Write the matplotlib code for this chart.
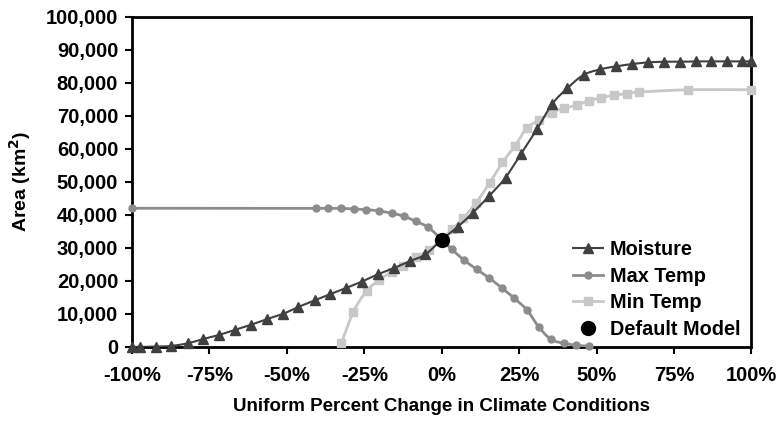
import numpy as np
import matplotlib.pyplot as plt
from matplotlib.lines import Line2D
from matplotlib.ticker import FuncFormatter

plt.rcParams['font.family'] = ['Liberation Sans', 'DejaVu Sans']
plt.rcParams['font.weight'] = 'bold'

# values
moist_x = [-100, -97.3, -92.3, -87.3, -82, -77, -72, -66.7, -61.6, -56.5, -51.3,
           -46.3, -41, -36, -31, -25.8, -20.6, -15.4, -10.3, -5.3, 0,
           5.1, 10.1, 15.4, 20.6, 25.6, 30.8, 35.6, 40.6, 45.8, 51.2,
           56.3, 61.5, 66.6, 71.8, 76.8, 82, 87.1, 92, 97.1, 100]
moist_y = [0, 0, 100, 300, 1100, 2400, 3600, 5200, 6700, 8400, 10000,
           12100, 14100, 16000, 17800, 19800, 22000, 23900, 26000, 28000, 32500,
           36300, 40700, 45800, 51300, 58500, 66000, 73500, 78400, 82400, 84100,
           85000, 85700, 86200, 86400, 86400, 86500, 86500, 86500, 86500, 86500]

maxt_x = [-100, -40.6, -36.6, -32.4, -28.4, -24.3, -20.3, -16.2, -12.2, -8.3, -4.3, 0,
          3.2, 7.2, 11.3, 15.3, 19.5, 23.4, 27.6, 31.3, 35.3, 39.4, 43.4, 47.5]
maxt_y = [42000, 42000, 42000, 42000, 41800, 41600, 41200, 40500, 39600, 38000, 36200, 32500,
          29600, 26300, 23500, 20900, 17800, 14800, 11100, 6100, 2300, 1100, 500, 200]

mint_x = [-32.4, -28.5, -24.2, -20.2, -16.2, -12.5, -8.2, -4.2, 0,
          3.4, 7, 11.1, 15.5, 19.6, 23.6, 27.4, 31.4, 35.5, 39.5, 43.6, 47.5,
          51.6, 55.6, 59.8, 63.7, 79.6, 100]
mint_y = [1100, 10700, 17000, 20300, 22800, 24600, 27300, 29300, 32500,
          35600, 39000, 43700, 49700, 55900, 60800, 66200, 68700, 71000, 72300, 73200, 74600,
          75500, 76300, 76700, 77200, 77900, 77900]

default_x = [0]
default_y = [32500]

x_ticks = [-100, -75, -50, -25, 0, 25, 50, 75, 100]
y_ticks = list(range(0, 100001, 10000))


def smooth(xs, ys, n=12):
    # excel-style smoothed line through the points (bezier, 1/6 tangents)
    p = np.column_stack([xs, ys]).astype(float)
    out = [p[0]]
    for i in range(len(p) - 1):
        p0 = p[i - 1] if i > 0 else p[i]
        p3 = p[i + 2] if i + 2 < len(p) else p[i + 1]
        c1 = p[i] + (p[i + 1] - p0) / 6
        c2 = p[i + 1] - (p3 - p[i]) / 6
        t = np.linspace(0, 1, n)[1:, None]
        seg = ((1 - t) ** 3 * p[i] + 3 * (1 - t) ** 2 * t * c1
               + 3 * (1 - t) * t ** 2 * c2 + t ** 3 * p[i + 1])
        out.extend(seg)
    out = np.array(out)
    return out[:, 0], out[:, 1]


fig = plt.figure(figsize=(7.77, 4.21), dpi=100)
ax = fig.add_axes([0.170, 0.176, 0.797, 0.784])

c_moist = '#404040'
c_max = '#8c8c8c'
c_min = '#c8c8c8'

sx, sy = smooth(mint_x, mint_y)
ax.plot(sx, sy, color=c_min, lw=2, zorder=2)
ax.plot(mint_x[:-1], mint_y[:-1], ls='none', marker='s', ms=6, color=c_min, zorder=3)
ax.plot(mint_x[-1], mint_y[-1], ls='none', marker='s', ms=6, color=c_min, zorder=3, clip_on=False)

sx, sy = smooth(maxt_x, maxt_y)
ax.plot(sx, sy, color=c_max, lw=2, zorder=4)
ax.plot(maxt_x, maxt_y, ls='none', marker='o', ms=5, color=c_max, zorder=5, clip_on=False)

sx, sy = smooth(moist_x, moist_y)
ax.plot(sx, sy, color=c_moist, lw=1.5, zorder=6)
ax.plot(moist_x, moist_y, ls='none', marker='^', ms=7, color=c_moist, zorder=7, clip_on=False)

ax.plot(default_x, default_y, ls='none', marker='o', ms=10, color='black', zorder=8)

ax.set_xlim(-100, 100)
ax.set_ylim(0, 100000)
ax.set_xticks(x_ticks)
ax.set_yticks(y_ticks)
ax.xaxis.set_major_formatter(FuncFormatter(lambda v, p: '%d%%' % v))
ax.yaxis.set_major_formatter(FuncFormatter(lambda v, p: '{:,}'.format(int(v))))
ax.tick_params(direction='out', length=5, width=1.5, labelsize=14.5, pad=5)
for s in ax.spines.values():
    s.set_linewidth(2)
ax.tick_params(axis='x', pad=9)

ax.set_xlabel('Uniform Percent Change in Climate Conditions', fontsize=13.5,
              fontweight='bold', labelpad=9)
ax.set_ylabel('Area (km$^2$)', fontsize=14, fontweight='bold', labelpad=9)

handles = [
    Line2D([], [], color=c_moist, lw=1.5, marker='^', ms=7),
    Line2D([], [], color=c_max, lw=2, marker='o', ms=5),
    Line2D([], [], color=c_min, lw=2, marker='s', ms=6),
    Line2D([], [], ls='none', color='black', marker='o', ms=10),
]
ax.legend(handles, ['Moisture', 'Max Temp', 'Min Temp', 'Default Model'],
          loc='lower right', frameon=False, fontsize=14.3, handlelength=1.5,
          handletextpad=0.35, labelspacing=0.38, borderaxespad=0.0,
          bbox_to_anchor=(0.995, 0.0))

fig.savefig('out.png', dpi=100)
